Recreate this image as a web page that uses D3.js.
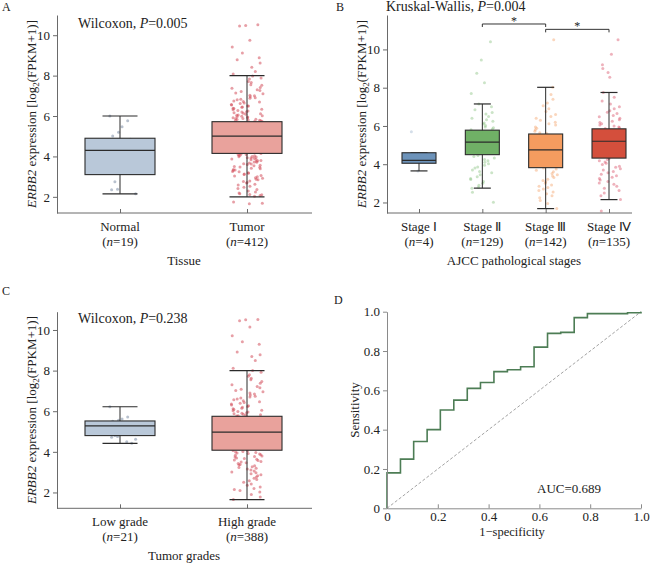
<!DOCTYPE html>
<html>
<head>
<meta charset="utf-8">
<script src="https://cdn.jsdelivr.net/npm/d3@7"></script>
<style>
body { margin: 0; background: #fff; }
text { font-family: "Liberation Serif", "Times New Roman", serif; fill: #222; }
</style>
</head>
<body>
<svg id="fig" width="650" height="564"></svg>
<script>
// box stats are [lower whisker, q1, median, q3, upper whisker]
const tissueGroups = ["Normal", "Tumor"];
const tissueN = [19, 412];
const tissueStats = [[2.15, 3.1, 4.3, 4.9, 6.0], [2.0, 4.15, 5.0, 5.72, 8.0]];
const normalPoints = [6.0, 5.77, 5.47, 5.2, 5.01, 4.85, 4.7, 4.55, 4.4, 4.3, 4.2, 3.95, 3.7, 3.45, 3.2, 2.75, 2.38, 2.35, 2.15];
const tumorPoints = [10.52, 10.48, 10.45, 9.75, 9.42, 9.12, 8.88, 8.78, 8.62, 8.42, 8.2, 8.08,
  7.98, 7.88, 7.83, 7.71, 7.66, 7.55, 7.52, 7.41, 7.38, 7.3, 7.26, 7.21, 7.14, 7.1, 7.03, 7.0, 6.95, 6.9, 6.88,
  6.83, 6.8, 6.74, 6.72, 6.69, 6.64, 6.62, 6.57, 6.55, 6.5, 6.49, 6.45, 6.43, 6.38, 6.37, 6.33, 6.31, 6.27,
  6.25, 6.21, 6.2, 6.16, 6.14, 6.11, 6.09, 6.05, 6.04, 6.01, 5.99, 5.96, 5.95, 5.92, 5.91, 5.88, 5.87, 5.84,
  5.83, 5.8, 5.79, 5.77, 5.76, 5.74, 5.73,
  5.6, 5.4, 5.1, 4.9, 4.6, 4.3,
  4.14, 4.13, 4.1, 4.09, 4.06, 4.04, 4.03, 4.0, 3.98, 3.97, 3.94, 3.92, 3.91, 3.87, 3.86, 3.83, 3.8, 3.79,
  3.76, 3.72, 3.71, 3.68, 3.64, 3.62, 3.6, 3.56, 3.54, 3.5, 3.48, 3.46, 3.41, 3.39, 3.35, 3.33, 3.3, 3.26,
  3.24, 3.19, 3.17, 3.13, 3.1, 3.05, 3.03, 2.99, 2.95, 2.92, 2.87, 2.84, 2.79, 2.76, 2.71, 2.68, 2.62, 2.58,
  2.52, 2.47, 2.41, 2.36, 2.29, 2.24, 2.19, 2.15, 2.12, 2.1, 2.06, 2.03,
  1.75, 1.68, 1.66];

const stageGroups = ["Stage Ⅰ", "Stage Ⅱ", "Stage Ⅲ", "Stage Ⅳ"];
const stageN = [4, 129, 142, 135];
const stageStats = [[3.65, 4.05, 4.2, 4.6, 4.6], [2.75, 4.5, 5.15, 5.78, 7.15],
  [1.68, 3.82, 4.75, 5.58, 8.02], [2.15, 4.32, 5.2, 5.85, 7.75]];
const stage1Points = [5.7, 4.25, 4.15, 3.65];
const stage2Points = [10.4, 9.45, 8.75, 8.26, 7.7, 7.15, 7.0, 6.85, 6.7, 6.62, 6.5, 6.4, 6.33, 6.25, 6.15, 6.1,
  6.02, 5.95, 5.9, 5.84, 5.8, 5.2, 4.9, 4.46, 4.4, 4.32, 4.25, 4.18, 4.1, 4.02, 3.95, 3.86, 3.8, 3.7, 3.62,
  3.55, 3.45, 3.35, 3.25, 3.2, 3.1, 3.0, 2.9, 2.8, 2.75, 2.53, 2.01];
const stage3Points = [10.5, 8.02, 7.65, 7.4, 7.2, 7.05, 6.9, 6.75, 6.6, 6.5, 6.4, 6.3, 6.2, 6.12, 6.05, 5.95,
  5.88, 5.8, 5.72, 5.65, 5.6, 5.0, 4.4, 3.8, 3.75, 3.68, 3.6, 3.52, 3.45, 3.38, 3.3, 3.22, 3.15, 3.08, 3.0,
  2.92, 2.85, 2.78, 2.7, 2.62, 2.55, 2.45, 2.35, 2.25, 2.1, 1.95, 1.68];
const stage4Points = [10.5, 9.75, 9.2, 9.0, 8.8, 8.55, 7.75, 7.5, 7.3, 7.15, 7.0, 6.9, 6.8, 6.72, 6.65, 6.55,
  6.48, 6.4, 6.32, 6.25, 6.18, 6.12, 6.05, 6.0, 5.95, 5.9, 5.87, 5.5, 5.0, 4.6, 4.3, 4.25, 4.18, 4.12, 4.05,
  3.98, 3.9, 3.84, 3.76, 3.7, 3.62, 3.55, 3.48, 3.4, 3.32, 3.25, 3.18, 3.1, 3.02, 2.95, 2.85, 2.75, 2.62,
  2.5, 2.35, 2.15, 1.55];
const stageBrackets = [["Stage Ⅱ", "Stage Ⅲ", 11.33], ["Stage Ⅲ", "Stage Ⅳ", 11.05]];

const gradeGroups = ["Low grade", "High grade"];
const gradeN = [21, 388];
const gradeStats = [[4.42, 4.8, 5.28, 5.52, 6.22], [1.65, 4.08, 4.97, 5.75, 8.0]];
const lowPoints = [6.22, 5.72, 5.62, 5.56, 5.5, 5.45, 5.4, 5.35, 5.3, 5.25, 5.2, 5.1, 5.0, 4.95, 4.86, 4.8,
  4.76, 4.72, 4.62, 4.5, 4.42];
const highPoints = [10.52, 10.5, 10.45, 10.15, 9.72, 9.42, 9.3, 8.92, 8.78, 8.7, 8.5, 8.12,
  8.0, 7.92, 7.8, 7.72, 7.62, 7.55, 7.46, 7.38, 7.3, 7.22, 7.15, 7.08, 7.02, 6.96, 6.9, 6.85, 6.8, 6.74,
  6.7, 6.65, 6.6, 6.56, 6.52, 6.47, 6.43, 6.39, 6.35, 6.31, 6.27, 6.23, 6.19, 6.15, 6.12, 6.08, 6.05, 6.02,
  5.99, 5.96, 5.93, 5.9, 5.88, 5.85, 5.83, 5.8, 5.78, 5.76,
  5.5, 5.2, 4.8, 4.4,
  4.07, 4.05, 4.02, 3.99, 3.97, 3.94, 3.92, 3.89, 3.86, 3.83, 3.8, 3.77, 3.74, 3.7, 3.67, 3.64, 3.6, 3.57,
  3.53, 3.5, 3.46, 3.42, 3.38, 3.35, 3.31, 3.27, 3.23, 3.19, 3.15, 3.1, 3.06, 3.01, 2.97, 2.92, 2.87, 2.82,
  2.76, 2.7, 2.64, 2.58, 2.5, 2.42, 2.35, 2.27, 2.2, 2.14, 2.1, 2.02, 1.9, 1.78, 1.65];

// ROC steps (1-specificity, sensitivity)
const rocX = [0, 0, 0.053, 0.105, 0.158, 0.21, 0.263, 0.316, 0.368, 0.421, 0.474, 0.526, 0.579, 0.632, 0.684, 0.737, 0.789, 0.947, 1.0];
const rocY = [0, 0.18, 0.25, 0.34, 0.40, 0.50, 0.55, 0.61, 0.64, 0.695, 0.705, 0.72, 0.82, 0.89, 0.895, 0.97, 0.99, 0.995, 1.0];
const rocTicks = [0, 0.2, 0.4, 0.6, 0.8, 1.0];

const svg = d3.select("#fig");
const axisColor = "#6a6a6a";

// fixed horizontal spread for strip points (hash of index, -1..1)
const jitter = j => {
  const s = Math.sin(j * 12.9898 + 78.233) * 43758.5453;
  return (s - Math.floor(s)) * 2 - 1;
};

function yLabel(g, cx, cy) {
  const t = g.append("text")
    .attr("transform", "translate(" + cx + "," + cy + ") rotate(-90)")
    .attr("text-anchor", "middle")
    .attr("dy", "0.35em")
    .attr("font-size", 13);
  t.append("tspan").attr("font-style", "italic").text("ERBB2");
  t.append("tspan").text(" expression [log");
  t.append("tspan").attr("font-size", 9).attr("dy", 3).text("2");
  t.append("tspan").attr("dy", -3).text("(FPKM+1)]");
}

function boxPanel(o) {
  const g = svg.append("g").attr("transform", "translate(" + o.left + "," + o.top + ")");
  const x = d3.scalePoint().domain(o.groups).range(o.centers);
  const y = d3.scaleLinear().domain(o.yDomain).range([o.height, 0]);

  // points first, boxes cover them
  o.groups.forEach((grp, i) => {
    g.append("g").selectAll("circle")
      .data(o.points[i])
      .join("circle")
      .attr("cx", (d, j) => x(grp) + jitter(j + i * 97) * o.spread)
      .attr("cy", d => y(d))
      .attr("r", 1.5)
      .attr("fill", o.pointColors[i])
      .attr("fill-opacity", o.pointOpacity);
  });

  const bw = o.boxWidth;
  const boxes = g.append("g").selectAll("g")
    .data(o.groups)
    .join("g");
  boxes.append("line")
    .attr("x1", d => x(d)).attr("x2", d => x(d))
    .attr("y1", (d, i) => y(o.stats[i][0]))
    .attr("y2", (d, i) => y(o.stats[i][4]))
    .attr("stroke", "#2b2b2b");
  [0, 4].forEach(k => {
    boxes.append("line")
      .attr("x1", d => x(d) - bw / 4).attr("x2", d => x(d) + bw / 4)
      .attr("y1", (d, i) => y(o.stats[i][k]))
      .attr("y2", (d, i) => y(o.stats[i][k]))
      .attr("stroke", "#2b2b2b")
      .attr("stroke-width", 1.2);
  });
  boxes.append("rect")
    .attr("x", d => x(d) - bw / 2)
    .attr("width", bw)
    .attr("y", (d, i) => y(o.stats[i][3]))
    .attr("height", (d, i) => y(o.stats[i][1]) - y(o.stats[i][3]))
    .attr("fill", (d, i) => o.boxColors[i])
    .attr("stroke", "#2b2b2b")
    .attr("stroke-width", 1.1);
  boxes.append("line")
    .attr("x1", d => x(d) - bw / 2).attr("x2", d => x(d) + bw / 2)
    .attr("y1", (d, i) => y(o.stats[i][2]))
    .attr("y2", (d, i) => y(o.stats[i][2]))
    .attr("stroke", "#2b2b2b")
    .attr("stroke-width", 1.2);

  // axes
  const ya = g.append("g")
    .call(d3.axisLeft(y).tickValues([2, 4, 6, 8, 10]).tickSize(4).tickSizeOuter(0));
  ya.select(".domain").attr("stroke", axisColor);
  ya.selectAll(".tick line").attr("stroke", axisColor);
  ya.selectAll("text").attr("font-size", 13).attr("font-family", "Liberation Serif").attr("fill", "#222");

  const xa = g.append("g")
    .attr("transform", "translate(0," + o.height + ")")
    .call(d3.axisBottom(x).tickSize(-4).tickSizeOuter(0));
  xa.select(".domain").remove();
  xa.selectAll(".tick line").attr("stroke", axisColor);
  xa.selectAll(".tick text").remove();
  xa.append("line").attr("x1", 0).attr("x2", o.width).attr("stroke", axisColor);
  o.groups.forEach((grp, i) => {
    g.append("text").attr("x", x(grp)).attr("y", o.height + 18)
      .attr("text-anchor", "middle").attr("font-size", 13).text(grp);
    const t = g.append("text").attr("x", x(grp)).attr("y", o.height + 33)
      .attr("text-anchor", "middle").attr("font-size", 13);
    t.append("tspan").text("(");
    t.append("tspan").attr("font-style", "italic").text("n");
    t.append("tspan").text("=" + o.n[i] + ")");
  });
  g.append("text").attr("x", o.titleX).attr("y", o.height + 52)
    .attr("text-anchor", "middle").attr("font-size", 13).text(o.xTitle);

  return {g, x, y};
}

// A
const pa = boxPanel({
  left: 57, top: 15, width: 255, height: 198,
  groups: tissueGroups, n: tissueN, stats: tissueStats, points: [normalPoints, tumorPoints],
  centers: [63, 190], yDomain: [1.2, 11], boxWidth: 70, spread: 16,
  boxColors: ["#b9c8d9", "#e9a29c"], pointColors: ["#7d8ea6", "#d4505d"], pointOpacity: 0.55,
  xTitle: "Tissue", titleX: 127
});
const ta = pa.g.append("text").attr("x", 21).attr("y", 13).attr("font-size", 14);
ta.append("tspan").text("Wilcoxon, ");
ta.append("tspan").attr("font-style", "italic").text("P");
ta.append("tspan").text("=0.005");
yLabel(svg, 31, 114);
svg.append("text").attr("x", 2).attr("y", 11).attr("font-size", 12).text("A");

// B
const pb = boxPanel({
  left: 387, top: 15, width: 245, height: 198,
  groups: stageGroups, n: stageN, stats: stageStats,
  points: [stage1Points, stage2Points, stage3Points, stage4Points],
  centers: [32, 222], yDomain: [1.45, 11.8], boxWidth: 34, spread: 12,
  boxColors: ["#6d93ba", "#70b066", "#f59c5f", "#d44f3c"],
  pointColors: ["#9fb6cf", "#8cc482", "#f5a56c", "#d9546a"], pointOpacity: 0.45,
  xTitle: "AJCC pathological stages", titleX: 127
});
stageBrackets.forEach(b => {
  const x1 = pb.x(b[0]), x2 = pb.x(b[1]), yy = pb.y(b[2]);
  pb.g.append("path")
    .attr("d", "M" + x1 + "," + (yy + 3) + "V" + yy + "H" + x2 + "V" + (yy + 3))
    .attr("fill", "none").attr("stroke", "#333");
  pb.g.append("text").attr("x", (x1 + x2) / 2).attr("y", yy + 1)
    .attr("text-anchor", "middle").attr("font-size", 12).text("*");
});
const tb = svg.append("text").attr("x", 386).attr("y", 11).attr("font-size", 14);
tb.append("tspan").text("Kruskal-Wallis, ");
tb.append("tspan").attr("font-style", "italic").text("P");
tb.append("tspan").text("=0.004");
yLabel(svg, 361, 114);
svg.append("text").attr("x", 336).attr("y", 11).attr("font-size", 12).text("B");

// C
const pc = boxPanel({
  left: 57, top: 311.7, width: 255, height: 196.6,
  groups: gradeGroups, n: gradeN, stats: gradeStats, points: [lowPoints, highPoints],
  centers: [63, 190], yDomain: [1.22, 10.9], boxWidth: 70, spread: 16,
  boxColors: ["#b9c8d9", "#e9a29c"], pointColors: ["#7d8ea6", "#d4505d"], pointOpacity: 0.55,
  xTitle: "Tumor grades", titleX: 127
});
const tc = pc.g.append("text").attr("x", 21).attr("y", 11).attr("font-size", 14);
tc.append("tspan").text("Wilcoxon, ");
tc.append("tspan").attr("font-style", "italic").text("P");
tc.append("tspan").text("=0.238");
yLabel(svg, 31, 410);
svg.append("text").attr("x", 2).attr("y", 295).attr("font-size", 12).text("C");

// D: ROC curve
const dW = 254, dH = 196.6;
const gd = svg.append("g").attr("transform", "translate(387,311.7)");
const xr = d3.scaleLinear().domain([0, 1]).range([0, dW]);
const yr = d3.scaleLinear().domain([0, 1]).range([dH, 0]);
const fmt = d => d === 0 ? "0" : d3.format(".1f")(d);

gd.append("line")
  .attr("x1", xr(0)).attr("y1", yr(0)).attr("x2", xr(1)).attr("y2", yr(1))
  .attr("stroke", "#8a8a8a").attr("stroke-width", 0.8).attr("stroke-dasharray", "3,2");
gd.append("path")
  .datum(rocX.map((v, i) => [v, rocY[i]]))
  .attr("fill", "none")
  .attr("stroke", "#4d7d55")
  .attr("stroke-width", 1.6)
  .attr("d", d3.line().x(d => xr(d[0])).y(d => yr(d[1])).curve(d3.curveStepAfter));

const dya = gd.append("g").call(d3.axisLeft(yr).tickValues(rocTicks).tickFormat(fmt).tickSize(4).tickSizeOuter(0));
const dxa = gd.append("g").attr("transform", "translate(0," + dH + ")")
  .call(d3.axisBottom(xr).tickValues(rocTicks).tickFormat(fmt).tickSize(-4).tickSizeOuter(0));
[dya, dxa].forEach(a => {
  a.select(".domain").attr("stroke", "#8a8a8a");
  a.selectAll(".tick line").attr("stroke", "#8a8a8a");
  a.selectAll("text").attr("font-size", 13).attr("font-family", "Liberation Serif").attr("fill", "#222");
});
dxa.selectAll("text").attr("y", 12.5).attr("dy", 0);

gd.append("text").attr("x", 150).attr("y", 181).attr("font-size", 13).text("AUC=0.689");
gd.append("text").attr("x", 125).attr("y", dH + 28).attr("text-anchor", "middle")
  .attr("font-size", 12.5).text("1−specificity");
gd.append("text")
  .attr("transform", "translate(-33," + (dH / 2) + ") rotate(-90)")
  .attr("text-anchor", "middle").attr("dy", "0.35em").attr("font-size", 13).text("Sensitivity");
svg.append("text").attr("x", 334).attr("y", 304).attr("font-size", 12).text("D");
</script>
</body>
</html>
